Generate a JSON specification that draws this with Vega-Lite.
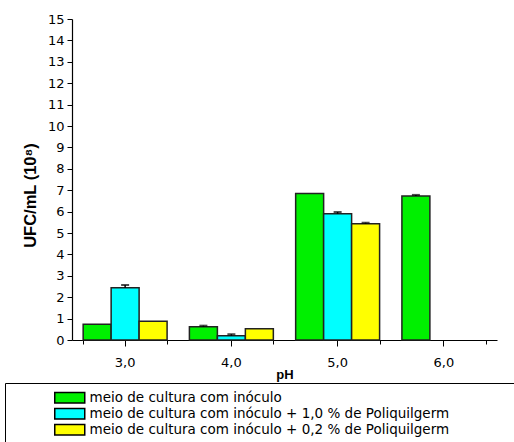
{
  "$schema": "https://vega.github.io/schema/vega-lite/v6.json",
  "width": 425,
  "height": 321,
  "autosize": {"type": "none"},
  "padding": {"left": 72, "top": 19, "right": 17, "bottom": 102},
  "background": "white",
  "config": {
    "view": {"stroke": null},
    "font": "Liberation Sans",
    "axis": {"labelColor": "black", "titleColor": "black", "domainColor": "black", "tickColor": "black", "grid": false, "labelFontSize": 13, "labelFont": "DejaVu Sans"},
    "axisX": {"labelFontSize": 13, "labelFont": "DejaVu Sans"},
    "axisY": {"labelFontSize": 13, "labelFont": "DejaVu Sans"}
  },
  "data": {
    "values": [
      {"pH": "3,0", "serie": "meio de cultura com inóculo", "v": 0.74},
      {"pH": "3,0", "serie": "meio de cultura com inóculo + 1,0 % de Poliquilgerm", "v": 2.44, "hi": 2.57},
      {"pH": "3,0", "serie": "meio de cultura com inóculo + 0,2 % de Poliquilgerm", "v": 0.88},
      {"pH": "4,0", "serie": "meio de cultura com inóculo", "v": 0.62, "hi": 0.67},
      {"pH": "4,0", "serie": "meio de cultura com inóculo + 1,0 % de Poliquilgerm", "v": 0.2, "hi": 0.27},
      {"pH": "4,0", "serie": "meio de cultura com inóculo + 0,2 % de Poliquilgerm", "v": 0.53},
      {"pH": "5,0", "serie": "meio de cultura com inóculo", "v": 6.85},
      {"pH": "5,0", "serie": "meio de cultura com inóculo + 1,0 % de Poliquilgerm", "v": 5.9, "hi": 5.98},
      {"pH": "5,0", "serie": "meio de cultura com inóculo + 0,2 % de Poliquilgerm", "v": 5.43, "hi": 5.48},
      {"pH": "6,0", "serie": "meio de cultura com inóculo", "v": 6.73, "hi": 6.78}
    ]
  },
  "encoding": {
    "x": {"field": "pH", "type": "nominal", "scale": {"paddingInner": 0.21, "paddingOuter": 0.105}},
    "xOffset": {"field": "serie", "type": "nominal", "scale": {"domain": ["meio de cultura com inóculo", "meio de cultura com inóculo + 1,0 % de Poliquilgerm", "meio de cultura com inóculo + 0,2 % de Poliquilgerm"], "paddingInner": 0, "paddingOuter": 0}}
  },
  "layer": [
    {
      "mark": {"type": "bar", "stroke": "#222222", "strokeWidth": 1.5},
      "encoding": {
        "x": {"field": "pH", "type": "nominal", "scale": {"paddingInner": 0.21, "paddingOuter": 0.105},
          "axis": {"orient": "bottom", "title": "pH", "labelAngle": 0, "labelFontSize": 13, "labelFont": "DejaVu Sans", "labelPadding": 10, "tickSize": 6, "titleFontSize": 13, "titleFontWeight": "bold", "titlePadding": -1, "domainWidth": 1.2}},
        "y": {"field": "v", "type": "quantitative", "scale": {"domain": [0, 15], "nice": false},
          "axis": {"title": "UFC/mL (10⁸)", "titleY": 176, "values": [0,1,2,3,4,5,6,7,8,9,10,11,12,13,14,15], "labelOverlap": false, "labelFontSize": 13, "labelFont": "DejaVu Sans", "tickSize": 5, "labelPadding": 3, "titleFontSize": 16.5, "titleFontWeight": "bold", "titlePadding": 9, "domainWidth": 1.2}},
        "color": {"field": "serie", "type": "nominal",
          "scale": {"domain": ["meio de cultura com inóculo", "meio de cultura com inóculo + 1,0 % de Poliquilgerm", "meio de cultura com inóculo + 0,2 % de Poliquilgerm"], "range": ["#00f000", "#00ffff", "#ffff00"]},
          "legend": {"orient": "none", "legendX": -67, "legendY": 364, "title": "\u00a0", "titleOrient": "right", "titlePadding": 60, "titleFontSize": 10, "strokeColor": "black", "fillColor": "white", "padding": 8, "symbolOffset": 50, "symbolType": "M-3,-1.05H3V1.05H-3Z", "symbolSize": 100, "symbolStrokeColor": "black", "symbolStrokeWidth": 1.5, "symbolOpacity": 1, "labelFont": "DejaVu Sans", "labelFontSize": 13.5, "labelColor": "black", "labelOffset": 13, "rowPadding": -1, "labelLimit": 900}}
      }
    },
    {
      "transform": [{"filter": "isValid(datum.hi)"}],
      "mark": {"type": "rule", "color": "black", "strokeWidth": 1.5},
      "encoding": {
        "x": {"field": "pH", "type": "nominal", "scale": {"paddingInner": 0.21, "paddingOuter": 0.105},
          "axis": {"orient": "bottom", "title": null, "labels": false, "domain": false, "tickBand": "extent", "tickSize": 4}},
        "y": {"field": "v", "type": "quantitative",
          "axis": {"title": "UFC/mL (10⁸)", "titleY": 176, "values": [0,1,2,3,4,5,6,7,8,9,10,11,12,13,14,15], "labelOverlap": false, "labelFontSize": 13, "labelFont": "DejaVu Sans", "tickSize": 5, "labelPadding": 3, "titleFontSize": 16.5, "titleFontWeight": "bold", "titlePadding": 9, "domainWidth": 1.2}},
        "y2": {"field": "hi"}
      }
    },
    {
      "transform": [{"filter": "isValid(datum.hi)"}],
      "mark": {"type": "tick", "color": "black", "thickness": 2, "size": 8, "orient": "horizontal"},
      "encoding": {
        "x": {"field": "pH", "type": "nominal", "axis": null},
        "y": {"field": "hi", "type": "quantitative",
          "axis": {"title": "UFC/mL (10⁸)", "titleY": 176, "values": [0,1,2,3,4,5,6,7,8,9,10,11,12,13,14,15], "labelOverlap": false, "labelFontSize": 13, "labelFont": "DejaVu Sans", "tickSize": 5, "labelPadding": 3, "titleFontSize": 16.5, "titleFontWeight": "bold", "titlePadding": 9, "domainWidth": 1.2}}
      }
    }
  ],
  "resolve": {"axis": {"x": "independent"}}
}
